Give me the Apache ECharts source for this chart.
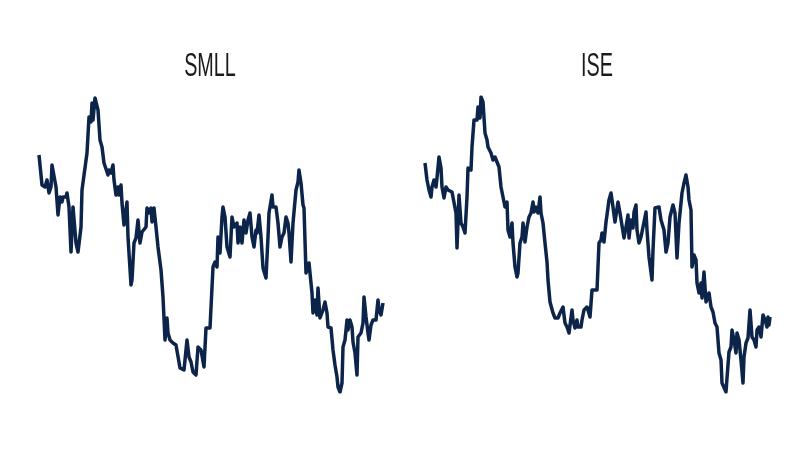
<!DOCTYPE html>
<html>
<head>
<meta charset="utf-8">
<script src="https://cdn.jsdelivr.net/npm/echarts@6/dist/echarts.min.js"></script>
<style>
html,body{margin:0;padding:0;background:#fff;}
#chart{width:800px;height:450px;}
</style>
</head>
<body>
<div id="chart"></div>
<script>
// Panel titles
var panelTitles = ['SMLL', 'ISE'];

// SMLL series: time index and index level
var smllT = [0,3,6,8,10,12,13,15,17,19,21,23,24,27,28,30,32,34,37,39,42,43,45,48,50,52,53,54,56,58,59,61,63,65,67,69,70,72,74,75,77,79,80,82,83,85,88,89,92,93,95,97,99,101,103,105,107,108,110,112,113,115,117,119,122,124,126,128,129,131,134,137,138,141,143,145,148,150,152,154,157,159,162,165,167,171,174,176,178,179,181,183,184,186,188,191,193,195,198,199,201,203,205,207,209,211,213,215,217,218,220,222,224,227,229,230,233,234,237,239,241,243,245,247,249,250,252,254,257,259,260,262,264,265,267,269,270,273,274,276,278,279,281,283,284,286,288,289,292,294,296,298,299,301,303,304,306,308,309,311,313,314,316,318,319,322,324,325,327,329,330,332,334,337,339,340,342,344];
var smllV = [245,215,213,220,207,213,235,237,213,185,203,198,203,203,207,193,148,193,157,148,173,210,208,247,283,278,297,280,302,303,290,260,253,237,235,225,230,227,235,220,205,213,205,215,197,175,198,163,115,120,157,162,180,157,168,167,173,192,187,192,178,192,173,153,130,103,60,82,67,60,57,55,57,32,33,30,60,43,38,28,25,53,50,33,72,72,133,138,133,163,147,183,193,183,153,143,183,173,177,157,173,157,180,167,180,187,163,153,170,167,185,163,132,122,163,187,205,193,193,177,153,163,167,183,177,167,138,177,210,218,230,217,195,192,127,133,137,107,87,100,85,112,82,80,90,98,87,73,72,50,35,23,13,8,17,53,60,80,70,80,73,58,47,25,63,67,77,103,83,67,60,75,80,80,100,90,85,97];

// ISE series
var iseT = [0,2,4,6,7,9,11,12,14,16,17,19,21,23,27,29,31,32,34,36,38,40,42,43,46,47,49,51,52,53,55,56,58,59,60,62,63,66,68,70,72,74,76,78,80,82,83,85,87,88,90,92,93,95,97,98,100,102,104,106,108,109,111,113,115,116,118,120,122,123,125,127,128,130,133,135,138,140,142,144,147,148,150,152,153,156,157,159,162,163,165,167,172,174,176,177,179,181,182,184,186,188,190,192,193,195,197,199,201,203,204,206,208,209,211,212,214,216,218,219,221,222,224,227,228,230,232,234,236,238,239,241,243,245,247,248,250,252,254,257,259,261,263,264,266,267,269,271,272,274,276,277,279,281,283,284,286,288,290,292,294,296,297,299,301,302,304,306,307,309,311,312,314,316,318,319,321,323,325,327,329,331,332,334,336,338,340,342,343,344,345];
var iseV = [237,220,210,203,213,220,213,222,243,232,213,202,213,210,208,207,187,152,205,177,173,167,203,232,230,253,280,282,280,293,282,303,298,297,267,260,253,247,240,243,245,233,213,215,193,198,170,163,177,157,133,123,127,157,163,177,158,173,183,187,198,188,193,187,203,187,177,157,138,120,98,100,87,82,82,87,93,77,73,67,90,80,72,80,73,73,80,90,93,90,83,110,110,157,160,167,158,178,185,200,207,193,178,177,198,187,185,162,173,185,162,180,172,188,195,170,157,163,173,178,188,170,143,120,150,192,192,193,180,178,170,148,157,183,182,195,187,142,177,207,217,225,213,200,190,133,145,140,117,107,117,102,128,98,97,107,93,88,77,73,47,40,17,15,8,22,48,53,70,60,47,67,60,40,17,43,57,62,90,63,60,53,70,73,63,85,80,73,83,75,83];

function pairs(t, v) {
  return t.map(function (x, i) { return [x, v[i]]; });
}

var chart = echarts.init(document.getElementById('chart'), null, {renderer: 'canvas'});
var lineColor = '#0c2449';

function titleText(txt, cx) {
  return {
    type: 'text',
    x: cx,
    y: 67,
    scaleX: 0.6,
    style: {
      text: txt,
      fontSize: 33,
      fontFamily: 'Liberation Sans, Arial, sans-serif',
      fill: '#1a1a1a',
      align: 'center',
      verticalAlign: 'middle',
      textAlign: 'center',
      textVerticalAlign: 'middle'
    }
  };
}

chart.setOption({
  animation: false,
  backgroundColor: '#ffffff',
  graphic: [titleText(panelTitles[0], 210), titleText(panelTitles[1], 597)],
  grid: [
    {left: 39, top: 97, width: 344, height: 295},
    {left: 425, top: 97, width: 345, height: 295}
  ],
  xAxis: [
    {type: 'value', gridIndex: 0, min: 0, max: 344, show: false},
    {type: 'value', gridIndex: 1, min: 0, max: 345, show: false}
  ],
  yAxis: [
    {type: 'value', gridIndex: 0, min: 8, max: 303, show: false},
    {type: 'value', gridIndex: 1, min: 8, max: 303, show: false}
  ],
  series: [
    {
      name: panelTitles[0], type: 'line', xAxisIndex: 0, yAxisIndex: 0,
      data: pairs(smllT, smllV), showSymbol: false,
      lineStyle: {color: lineColor, width: 3.5, join: 'round'}
    },
    {
      name: panelTitles[1], type: 'line', xAxisIndex: 1, yAxisIndex: 1,
      data: pairs(iseT, iseV), showSymbol: false,
      lineStyle: {color: lineColor, width: 3.5, join: 'round'}
    }
  ]
});
</script>
</body>
</html>
